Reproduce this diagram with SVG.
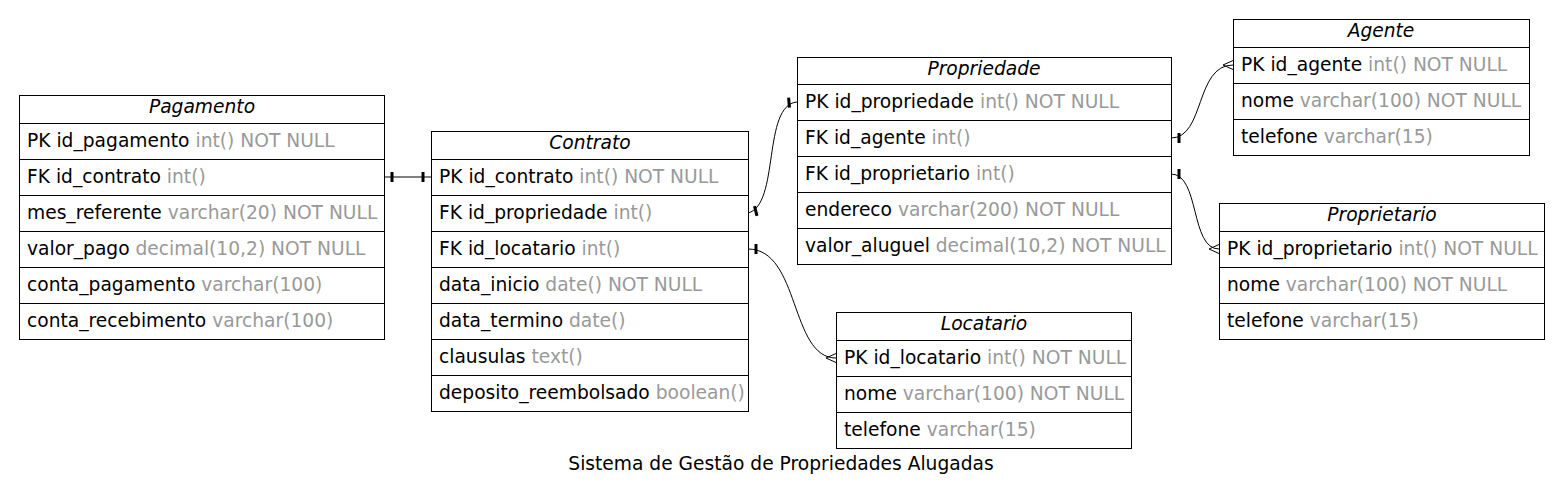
<svg xmlns="http://www.w3.org/2000/svg" width="1562" height="498" viewBox="0 0 1562 498">
<style>
.box{fill:#fff;stroke:#000;stroke-width:1}
.ln{stroke:#000;stroke-width:1}
text{font-family:"DejaVu Sans",sans-serif;font-size:18.67px;fill:#000}
.ttl{font-style:italic;text-anchor:middle}
.ty{fill:#999}
.edge{fill:none;stroke:#000;stroke-width:1}
</style>
<defs>
<marker id="tee" markerUnits="userSpaceOnUse" markerWidth="20" markerHeight="20" viewBox="-15 -10 20 20" refX="0" refY="0" orient="auto-start-reverse" overflow="visible">
<rect x="-9.5" y="-5" width="3" height="10" fill="#000"/>
</marker>
<marker id="crow" markerUnits="userSpaceOnUse" markerWidth="20" markerHeight="20" viewBox="-15 -10 20 20" refX="0" refY="0" orient="auto" overflow="visible">
<path d="M-10,0 L0,-4.5 M-10,0 L0,4.5" fill="none" stroke="#000" stroke-width="1"/>
</marker>
</defs>

<g id="connectors">
<path class="edge" d="M384,177 L431,177" marker-start="url(#tee)" marker-end="url(#tee)"/>
<path class="edge" d="M748,213 C780,205 762,105 797,102" marker-start="url(#tee)" marker-end="url(#tee)"/>
<path class="edge" d="M748,249 C800,249 790,358 836,358" marker-start="url(#tee)" marker-end="url(#crow)"/>
<path class="edge" d="M1171,138 C1205,138 1195,65 1233,65" marker-start="url(#tee)" marker-end="url(#crow)"/>
<path class="edge" d="M1171,174 C1200,174 1190,249 1219,249" marker-start="url(#tee)" marker-end="url(#crow)"/>
</g>

<g id="Pagamento">
<rect class="box" x="19.5" y="95.5" width="365" height="244"/>
<path class="ln" d="M19.5,123.5H384.5M19.5,159.5H384.5M19.5,195.5H384.5M19.5,231.5H384.5M19.5,267.5H384.5M19.5,303.5H384.5"/>
<text class="ttl" x="202" y="113">Pagamento</text>
<text x="27" y="146.5">PK id_pagamento <tspan class="ty">int() NOT NULL</tspan></text>
<text x="27" y="182.5">FK id_contrato <tspan class="ty">int()</tspan></text>
<text x="27" y="218.5">mes_referente <tspan class="ty">varchar(20) NOT NULL</tspan></text>
<text x="27" y="254.5">valor_pago <tspan class="ty">decimal(10,2) NOT NULL</tspan></text>
<text x="27" y="290.5">conta_pagamento <tspan class="ty">varchar(100)</tspan></text>
<text x="27" y="326.5">conta_recebimento <tspan class="ty">varchar(100)</tspan></text>
</g>

<g id="Contrato">
<rect class="box" x="431.5" y="131.5" width="317" height="280"/>
<path class="ln" d="M431.5,159.5H748.5M431.5,195.5H748.5M431.5,231.5H748.5M431.5,267.5H748.5M431.5,303.5H748.5M431.5,339.5H748.5M431.5,375.5H748.5"/>
<text class="ttl" x="590" y="149">Contrato</text>
<text x="439" y="182.5">PK id_contrato <tspan class="ty">int() NOT NULL</tspan></text>
<text x="439" y="218.5">FK id_propriedade <tspan class="ty">int()</tspan></text>
<text x="439" y="254.5">FK id_locatario <tspan class="ty">int()</tspan></text>
<text x="439" y="290.5">data_inicio <tspan class="ty">date() NOT NULL</tspan></text>
<text x="439" y="326.5">data_termino <tspan class="ty">date()</tspan></text>
<text x="439" y="362.5">clausulas <tspan class="ty">text()</tspan></text>
<text x="439" y="398.5">deposito_reembolsado <tspan class="ty">boolean()</tspan></text>
</g>

<g id="Propriedade">
<rect class="box" x="797.5" y="57.5" width="374" height="207"/>
<path class="ln" d="M797.5,84.5H1171.5M797.5,120.5H1171.5M797.5,156.5H1171.5M797.5,192.5H1171.5M797.5,228.5H1171.5"/>
<text class="ttl" x="984" y="74.5">Propriedade</text>
<text x="805" y="107.5">PK id_propriedade <tspan class="ty">int() NOT NULL</tspan></text>
<text x="805" y="143.5">FK id_agente <tspan class="ty">int()</tspan></text>
<text x="805" y="179.5">FK id_proprietario <tspan class="ty">int()</tspan></text>
<text x="805" y="215.5">endereco <tspan class="ty">varchar(200) NOT NULL</tspan></text>
<text x="805" y="251.5">valor_aluguel <tspan class="ty">decimal(10,2) NOT NULL</tspan></text>
</g>

<g id="Agente">
<rect class="box" x="1233.5" y="19.5" width="296" height="136"/>
<path class="ln" d="M1233.5,47.5H1529.5M1233.5,83.5H1529.5M1233.5,119.5H1529.5"/>
<text class="ttl" x="1381" y="37">Agente</text>
<text x="1241" y="70.5">PK id_agente <tspan class="ty">int() NOT NULL</tspan></text>
<text x="1241" y="106.5">nome <tspan class="ty">varchar(100) NOT NULL</tspan></text>
<text x="1241" y="142.5">telefone <tspan class="ty">varchar(15)</tspan></text>
</g>

<g id="Proprietario">
<rect class="box" x="1219.5" y="203.5" width="325" height="136"/>
<path class="ln" d="M1219.5,231.5H1544.5M1219.5,267.5H1544.5M1219.5,303.5H1544.5"/>
<text class="ttl" x="1382" y="221">Proprietario</text>
<text x="1227" y="254.5">PK id_proprietario <tspan class="ty">int() NOT NULL</tspan></text>
<text x="1227" y="290.5">nome <tspan class="ty">varchar(100) NOT NULL</tspan></text>
<text x="1227" y="326.5">telefone <tspan class="ty">varchar(15)</tspan></text>
</g>

<g id="Locatario">
<rect class="box" x="836.5" y="312.5" width="295" height="136"/>
<path class="ln" d="M836.5,340.5H1131.5M836.5,376.5H1131.5M836.5,412.5H1131.5"/>
<text class="ttl" x="984" y="330">Locatario</text>
<text x="844" y="363.5">PK id_locatario <tspan class="ty">int() NOT NULL</tspan></text>
<text x="844" y="399.5">nome <tspan class="ty">varchar(100) NOT NULL</tspan></text>
<text x="844" y="435.5">telefone <tspan class="ty">varchar(15)</tspan></text>
</g>

<text id="label" x="781" y="470" text-anchor="middle">Sistema de Gestão de Propriedades Alugadas</text>
</svg>
